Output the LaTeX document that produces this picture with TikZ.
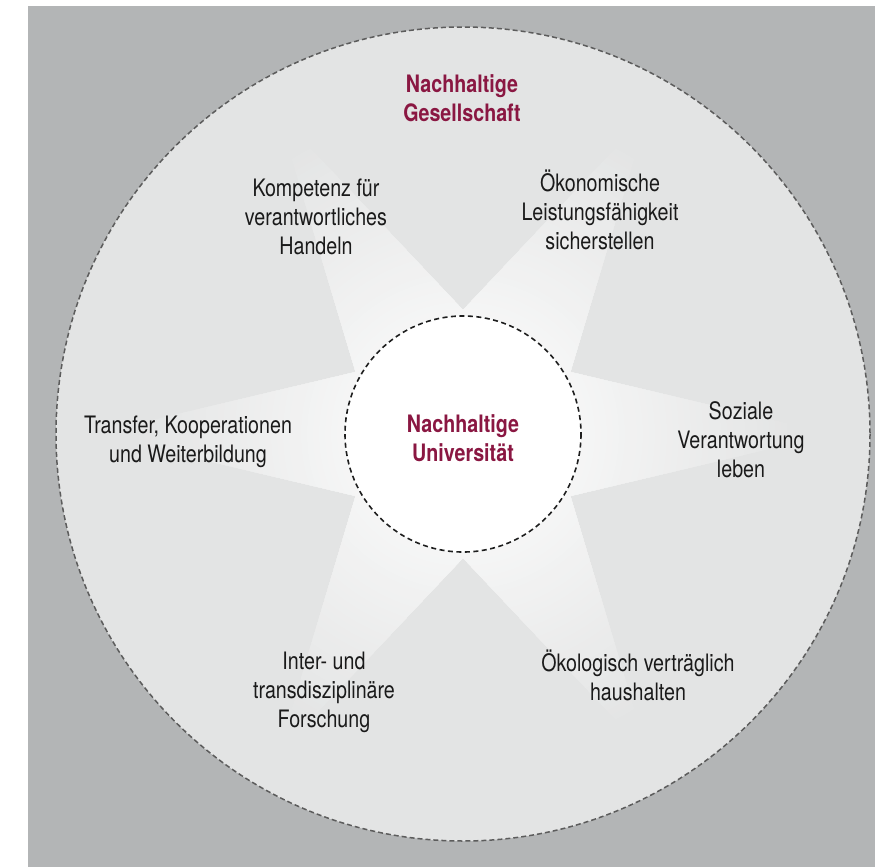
\documentclass[tikz,border=0pt]{standalone}
\usepackage{fontspec}
\setmainfont{TeX Gyre Heros}
\newfontfamily\condfont[FakeStretch=0.82]{TeX Gyre Heros}
\definecolor{pagegray}{HTML}{B3B5B6}
\definecolor{ringfill}{HTML}{E3E4E4}
\definecolor{ringline}{HTML}{5C5C5C}
\definecolor{innerline}{HTML}{1E1E1E}
\definecolor{maroon}{HTML}{8A1742}
\definecolor{labeltext}{HTML}{1A1A1A}
\begin{document}
\begin{tikzpicture}[x=1pt,y=-1pt,
  lab/.style={align=center, inner sep=0pt, text=labeltext,
    font=\condfont\fontsize{24}{29}\selectfont},
  ttl/.style={align=center, inner sep=0pt, text=maroon,
    font=\condfont\bfseries\fontsize{24}{29}\selectfont},
  outerring/.style={fill=ringfill, draw=ringline, line width=1.5pt,
    dash pattern=on 5pt off 3pt},
  innerring/.style={fill=white, draw=innerline, line width=1.6pt,
    dash pattern=on 5pt off 3.5pt}]
\useasboundingbox (0,0) rectangle (875,867);
\fill[pagegray] (28,6) rectangle (875,867);
\coordinate (c) at (463,434);
% outer circle
\draw[outerring] (c) circle (407);
% star of light rays (stepped radial fade)
\begin{scope}[shift={(463,434)}]
  \clip (0:370) -- (30:124) -- (60:370) -- (90:124) -- (120:370) -- (150:124)
     -- (180:370) -- (210:124) -- (240:370) -- (270:124) -- (300:370)
     -- (330:124) -- cycle;
  \foreach \rr in {336,330,...,6} {
    \pgfmathtruncatemacro\pc{\rr/3.36}
    \fill[ringfill!\pc!white] (0,0) circle (\rr);
  }
\end{scope}
% inner circle
\draw[innerring] (c) circle (118);
% texts
\node[ttl] (soc) at (462,98) {Nachhaltige\\Gesellschaft};
\node[ttl] (uni) at (463,438) {Nachhaltige\\Universität};
\node[lab] (komp) at (316,217) {Kompetenz für\\verantwortliches\\Handeln};
\node[lab] (oeko) at (600,210) {Ökonomische\\Leistungsfähigkeit\\sicherstellen};
\node[lab] (sozi) at (741,440) {Soziale\\Verantwortung\\leben};
\node[lab] (trans) at (188,442) {Transfer, Kooperationen\\und Weiterbildung};
\node[lab] (inter) at (324,692) {Inter- und\\transdisziplinäre\\Forschung};
\node[lab] (oekol) at (638,675) {Ökologisch verträglich\\haushalten};
\end{tikzpicture}
\end{document}
